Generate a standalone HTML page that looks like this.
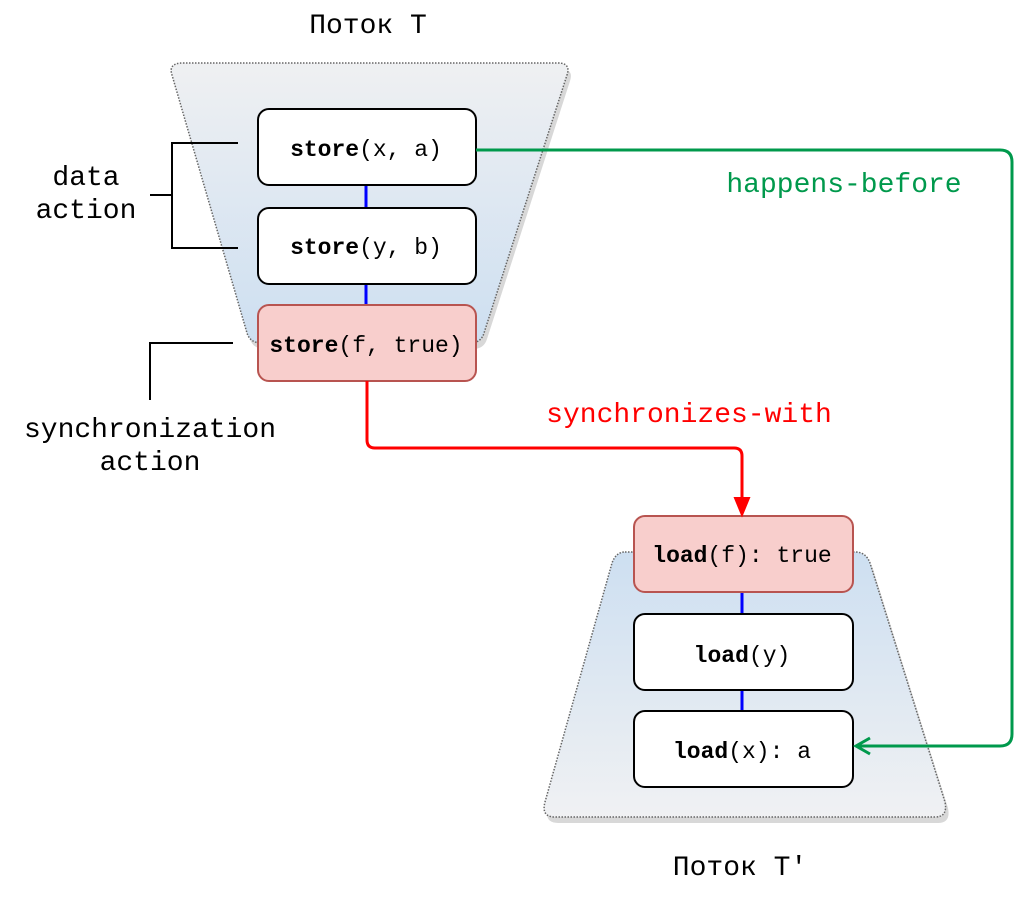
<!DOCTYPE html>
<html><head><style>body{margin:0;background:#fff}</style></head><body>
<svg width="1034" height="892" xmlns="http://www.w3.org/2000/svg" font-family="'Liberation Mono', monospace">
<defs>
<linearGradient id="g1" x1="0" y1="0" x2="0" y2="1"><stop offset="0" stop-color="#eff0f2"/><stop offset="1" stop-color="#cddff1"/></linearGradient>
<linearGradient id="g2" x1="0" y1="0" x2="0" y2="1"><stop offset="0" stop-color="#cddff1"/><stop offset="1" stop-color="#f0f1f3"/></linearGradient>
</defs>
<path d="M183,66 L558,66 Q571,66 567,78 L484,336 Q481,346 470,346 L262,346 Q250,346 247,336 L172,78 Q168,66 183,66 Z" fill="#d8d8d8" transform="translate(3,3)"/>
<path d="M183,63 L558,63 Q571,63 567,75 L484,333 Q481,343 470,343 L262,343 Q250,343 247,333 L172,75 Q168,63 183,63 Z" fill="url(#g1)" stroke="#666" stroke-width="1.5" stroke-dasharray="1.5,1.5"/>
<path d="M625,555 L855,555 Q866,555 870,566 L945,805 Q948,820 935,820 L555,820 Q541,820 545,805 L612,566 Q616,555 625,555 Z" fill="#d8d8d8" transform="translate(3,3)"/>
<path d="M625,552 L855,552 Q866,552 870,563 L945,802 Q948,817 935,817 L555,817 Q541,817 545,802 L612,563 Q616,552 625,552 Z" fill="url(#g2)" stroke="#666" stroke-width="1.5" stroke-dasharray="1.5,1.5"/>
<g stroke="#0000ff" stroke-width="3"><line x1="366" y1="185" x2="366" y2="208"/><line x1="366" y1="284" x2="366" y2="305"/><line x1="742" y1="592" x2="742" y2="614"/><line x1="742" y1="690" x2="742" y2="711"/></g>
<g stroke="#000" stroke-width="2" fill="#fff">
<rect x="258" y="109" width="218" height="76" rx="11"/>
<rect x="258" y="208" width="218" height="76" rx="11"/>
<rect x="634" y="614" width="219" height="76" rx="11"/>
<rect x="634" y="711" width="219" height="76" rx="11"/>
</g>
<g stroke="#b85450" stroke-width="2" fill="#f8cecc">
<rect x="258" y="305" width="218" height="76" rx="11"/>
<rect x="634" y="516" width="219" height="76" rx="11"/>
</g>
<g font-size="23" text-anchor="middle" fill="#000">
<text x="366" y="156"><tspan font-weight="bold">store</tspan>(x, a)</text>
<text x="366" y="254"><tspan font-weight="bold">store</tspan>(y, b)</text>
<text x="366" y="352"><tspan font-weight="bold">store</tspan>(f, true)</text>
<text x="742" y="562"><tspan font-weight="bold">load</tspan>(f): true</text>
<text x="742" y="662"><tspan font-weight="bold">load</tspan>(y)</text>
<text x="742" y="758"><tspan font-weight="bold">load</tspan>(x): a</text>
</g>
<path d="M476,150 L1000,150 Q1012,150 1012,162 L1012,734 Q1012,746 1000,746 L858,746" fill="none" stroke="#00994c" stroke-width="3"/>
<path d="M870,738 L856,746 L870,754" fill="none" stroke="#00994c" stroke-width="3"/>
<path d="M367,381 L367,440 Q367,448 375,448 L734,448 Q742,448 742,456 L742,505" fill="none" stroke="#ff0000" stroke-width="3"/>
<path d="M735,498 L742,515 L749,498 Z" fill="#ff0000" stroke="#ff0000" stroke-width="2"/>
<g stroke="#000" stroke-width="2" fill="none">
<path d="M238,143 L172,143 L172,248 L238,248 M150,195 L172,195"/>
<path d="M233,343 L150,343 L150,400"/>
</g>
<g font-size="28" text-anchor="middle">
<text x="368" y="33">Поток T</text>
<text x="740" y="875">Поток T'</text>
<text x="86" y="185">data</text>
<text x="86" y="218">action</text>
<text x="150" y="437">synchronization</text>
<text x="150" y="470">action</text>
<text x="844" y="192" fill="#00994c">happens-before</text>
<text x="689" y="422" fill="#ff0000">synchronizes-with</text>
</g>
</svg>
</body></html>
